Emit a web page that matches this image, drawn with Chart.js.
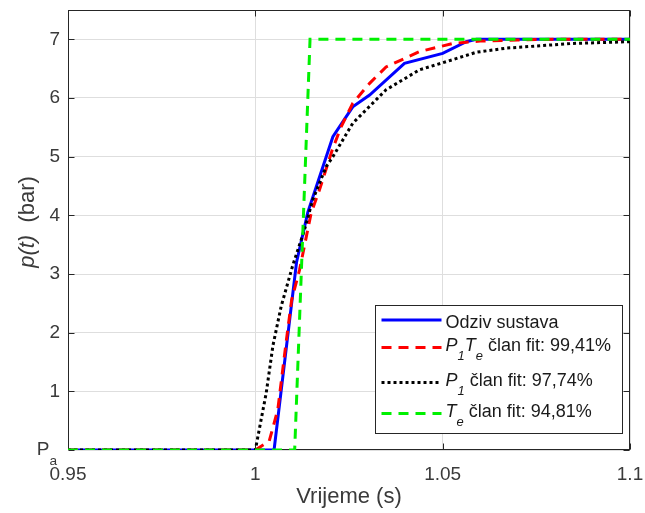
<!DOCTYPE html>
<html>
<head>
<meta charset="utf-8">
<script src="https://cdn.jsdelivr.net/npm/chart.js@4.4.1/dist/chart.umd.min.js"></script>
<style>
  html, body { margin: 0; padding: 0; background: #ffffff; }
  #wrap { width: 645px; height: 513px; }
</style>
</head>
<body>
<div id="wrap"><canvas id="c" width="645" height="513"></canvas></div>
<script>
// Step response of the pneumatic system and three fitted models.
// Markup in labels: *...* = italic, _x = subscript character.

const xTickValues = [0.95, 1.0, 1.05, 1.1];
const xTickLabels = ['0.95', '1', '1.05', '1.1'];
const yTickValues = [0, 1, 2, 3, 4, 5, 6, 7];
const yTickLabels = ['P_a', '1', '2', '3', '4', '5', '6', '7'];

const xTitle = 'Vrijeme (s)';
const yTitle = '*p(t)*  (bar)';

const seriesNames = [
  'Odziv sustava',
  '*P_1T_e* član fit: 99,41%',
  '*P_1* član fit: 97,74%',
  '*T_e* član fit: 94,81%'
];

// measured response
const responseT = [0.95, 1.005, 1.011, 1.014, 1.0207, 1.026, 1.0305, 1.0398, 1.050, 1.0563, 1.059, 1.1];
const responseP = [0, 0, 3.2, 4.05, 5.34, 5.85, 6.05, 6.59, 6.76, 6.96, 7.0, 7.0];

// first order + dead time model
const p1teT = [0.95, 1.0, 1.0037, 1.006, 1.0082, 1.0097, 1.0118, 1.0149, 1.0171, 1.0194, 1.0205, 1.0229, 1.026, 1.0305, 1.0349, 1.0438, 1.0527, 1.06, 1.07, 1.08, 1.1];
const p1teP = [0, 0, 0.15, 0.69, 1.83, 2.56, 3.07, 4.04, 4.43, 4.89, 5.11, 5.51, 5.91, 6.25, 6.53, 6.79, 6.93, 6.97, 6.99, 7.0, 7.0];

// first order model
const p1T = [0.95, 1.0, 1.0029, 1.0047, 1.0069, 1.0100, 1.0131, 1.0153, 1.0189, 1.0207, 1.026, 1.0349, 1.0438, 1.05, 1.059, 1.067, 1.0847, 1.1];
const p1P = [0, 0, 0.97, 1.78, 2.45, 3.15, 3.75, 4.26, 4.83, 5.0, 5.57, 6.14, 6.48, 6.6, 6.78, 6.85, 6.93, 6.96];

// pure dead time model
const teT = [0.95, 1.0105, 1.0146, 1.1];
const teP = [0, 0, 7, 7];

const FONT = '"Liberation Sans", Arial, Helvetica, sans-serif';
const TEXT = '#3a3a3a';
const AXIS = '#262626';
const SUB_SCALE = 0.72;
const SUB_SHIFT = 0.55;

const pts = (ts, ps) => ts.map((t, i) => ({ x: t, y: ps[i] }));

function parseRich(str) {
  const segs = [];
  let italic = false;
  for (let i = 0; i < str.length; i++) {
    const ch = str[i];
    if (ch === '*') { italic = !italic; continue; }
    if (ch === '_') { segs.push({ t: str[i + 1], italic, sub: true }); i++; continue; }
    const last = segs[segs.length - 1];
    if (last && !last.sub && last.italic === italic) last.t += ch;
    else segs.push({ t: ch, italic, sub: false });
  }
  return segs;
}
const fontStr = (size, italic) => (italic ? 'italic ' : '') + size + 'px ' + FONT;
function hasSub(segs) { return segs.some(s => s.sub); }
function measureRich(ctx, segs, size) {
  let w = 0;
  for (const s of segs) {
    ctx.font = fontStr(s.sub ? size * SUB_SCALE : size, s.italic);
    w += ctx.measureText(s.t).width;
  }
  return w;
}
function drawRich(ctx, segs, x, baseline, size) {
  let cx = x;
  ctx.textBaseline = 'alphabetic';
  ctx.textAlign = 'left';
  for (const s of segs) {
    const fs = s.sub ? size * SUB_SCALE : size;
    ctx.font = fontStr(fs, s.italic);
    ctx.fillText(s.t, cx, baseline + (s.sub ? size * SUB_SHIFT : 0));
    cx += ctx.measureText(s.t).width;
  }
  return cx;
}

// axes box, inward ticks, legend, rich-text labels
const decor = {
  id: 'decor',
  beforeDatasetsDraw(chart) {
    const { ctx, chartArea: a, scales: { x, y } } = chart;
    ctx.save();
    ctx.strokeStyle = AXIS;
    ctx.lineWidth = 1;
    const L = Math.round(a.left) + 0.5, R = Math.round(a.right) - 0.5;
    const T = Math.round(a.top) + 0.5, B = Math.round(a.bottom) - 0.5;
    ctx.beginPath();
    const tl = 6;
    xTickValues.forEach(v => {
      const px = Math.round(x.getPixelForValue(v)) + 0.5;
      ctx.moveTo(px, B); ctx.lineTo(px, B - tl);
      ctx.moveTo(px, T); ctx.lineTo(px, T + tl);
    });
    yTickValues.forEach(v => {
      const py = Math.round(y.getPixelForValue(v)) + 0.5;
      ctx.moveTo(L, py); ctx.lineTo(L + tl, py);
      ctx.moveTo(R, py); ctx.lineTo(R - tl, py);
    });
    ctx.stroke();
    ctx.strokeRect(L, T, R - L, B - T);
    ctx.restore();
  },
  afterDatasetsDraw(chart) {
    const { ctx, chartArea: a } = chart;
    const ds = chart.data.datasets;
    ctx.save();
    const bx = Math.round(a.right) - 254.5, by = Math.round(a.bottom) - 144.5;
    const bw = 247, bh = 128;
    ctx.fillStyle = '#ffffff';
    ctx.fillRect(bx, by, bw, bh);
    ctx.strokeStyle = AXIS;
    ctx.lineWidth = 1;
    ctx.strokeRect(bx, by, bw, bh);
    const rowY = [14.5, 42, 77, 108];
    const size = 18;
    seriesNames.forEach((name, i) => {
      const d = ds[i];
      const ly = by + rowY[i];
      ctx.save();
      ctx.strokeStyle = d.borderColor;
      ctx.lineWidth = d.borderWidth;
      ctx.setLineDash(d.borderDash || []);
      ctx.beginPath();
      ctx.moveTo(bx + 6, ly);
      ctx.lineTo(bx + 66, ly);
      ctx.stroke();
      ctx.restore();
      const segs = parseRich(name);
      const shift = hasSub(segs) ? size * SUB_SHIFT : 0;
      const base = ly + 1.5 + 0.36 * size - shift / 2;
      ctx.fillStyle = '#1a1a1a';
      drawRich(ctx, segs, bx + 70, base, size);
    });
    ctx.restore();
  },
  afterDraw(chart) {
    const { ctx, chartArea: a, scales: { y } } = chart;
    ctx.save();
    ctx.fillStyle = TEXT;
    // y-axis title
    const tsegs = parseRich(yTitle);
    const tsize = 22;
    const w = measureRich(ctx, tsegs, tsize);
    ctx.translate(26, (a.top + a.bottom) / 2 - 8);
    ctx.rotate(-Math.PI / 2);
    drawRich(ctx, tsegs, -w / 2, 0.36 * tsize, tsize);
    ctx.restore();
    // tick label at p = 0 (atmospheric pressure)
    ctx.save();
    ctx.fillStyle = TEXT;
    const zsegs = parseRich(yTickLabels[0]);
    const zsize = 19;
    const zw = measureRich(ctx, zsegs, zsize);
    drawRich(ctx, zsegs, a.left - 11 - zw, y.getPixelForValue(0) + 5, zsize);
    ctx.restore();
  }
};

const series = [
  { t: responseT, p: responseP, color: '#0000ff', dash: [], order: 4 },
  { t: p1teT, p: p1teP, color: '#ff0000', dash: [10, 7], order: 3 },
  { t: p1T, p: p1P, color: '#000000', dash: [3, 3], order: 2 },
  { t: teT, p: teP, color: '#00f000', dash: [10, 7], order: 1 }
];

function noEdgePadding(s) {
  s.paddingLeft = 0; s.paddingRight = 0; s.paddingTop = 0; s.paddingBottom = 0;
}

new Chart(document.getElementById('c'), {
  type: 'line',
  data: {
    datasets: series.map((s, i) => ({
      label: seriesNames[i],
      data: pts(s.t, s.p),
      borderColor: s.color,
      borderWidth: 3,
      borderDash: s.dash,
      pointRadius: 0,
      tension: 0,
      fill: false,
      order: s.order
    }))
  },
  options: {
    responsive: false,
    animation: false,
    devicePixelRatio: 1,
    layout: { padding: { top: 10, right: 15, left: 0, bottom: 0 } },
    plugins: { legend: { display: false }, tooltip: { enabled: false } },
    scales: {
      x: {
        type: 'linear',
        min: 0.95,
        max: 1.1,
        afterBuildTicks: s => { s.ticks = xTickValues.map(v => ({ value: v })); },
        afterFit: s => { s.height = 63; noEdgePadding(s); },
        ticks: {
          autoSkip: false,
          maxRotation: 0,
          padding: 13,
          color: TEXT,
          font: { family: FONT, size: 19 },
          callback: (v) => { const k = xTickValues.findIndex(t => Math.abs(t - v) < 1e-9); return k >= 0 ? xTickLabels[k] : ''; }
        },
        grid: { color: '#dedede', lineWidth: 1, drawTicks: false },
        border: { display: false },
        title: { display: true, text: xTitle, color: TEXT, font: { family: FONT, size: 22 }, padding: { top: 0, bottom: 3 } }
      },
      y: {
        type: 'linear',
        min: 0,
        max: 7.5,
        afterBuildTicks: s => { s.ticks = yTickValues.map(v => ({ value: v })); },
        afterFit: s => { s.width = 68; noEdgePadding(s); },
        ticks: {
          autoSkip: false,
          padding: 8,
          color: TEXT,
          font: { family: FONT, size: 19 },
          callback: (v) => { const k = yTickValues.indexOf(v); return k > 0 ? yTickLabels[k] : ''; }
        },
        grid: { color: '#dedede', lineWidth: 1, drawTicks: false },
        border: { display: false }
      }
    }
  },
  plugins: [decor]
});
</script>
</body>
</html>
